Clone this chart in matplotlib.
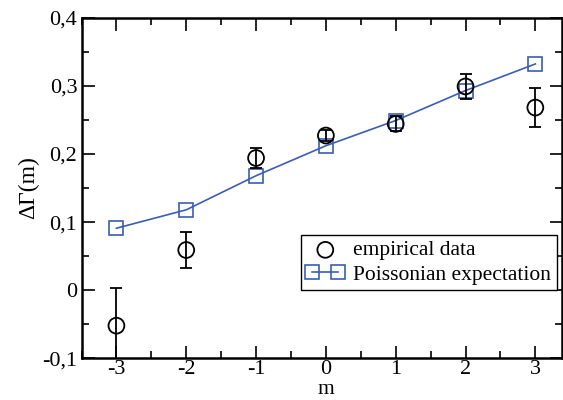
import matplotlib

matplotlib.use("Agg")
import matplotlib.pyplot as plt
from matplotlib.ticker import FuncFormatter, MultipleLocator

m_vals = [-3, -2, -1, 0, 1, 2, 3]
empirical = [-0.052, 0.059, 0.194, 0.227, 0.244, 0.299, 0.268]
empirical_err = [0.055, 0.027, 0.014, 0.008, 0.011, 0.018, 0.028]
poisson = [0.091, 0.118, 0.168, 0.212, 0.249, 0.293, 0.332]

BLUE = "#3a5db4"

plt.rcParams["font.family"] = ["Liberation Serif", "DejaVu Serif"]

fig = plt.figure(figsize=(5.63, 4.0), dpi=100)
ax = fig.add_axes([0.1448, 0.104, 0.8532, 0.852])

ax.plot(m_vals, poisson, "-", color=BLUE, lw=1.2, marker="s", ms=9.5,
        mfc="none", mec=BLUE, mew=1.2, label="Poissonian expectation", zorder=3)
ax.errorbar(m_vals, empirical, yerr=empirical_err, fmt="none", ecolor="black",
            elinewidth=1.3, capsize=4.5, capthick=1.3, zorder=4)
ax.scatter(m_vals, empirical, s=130, facecolors="none", edgecolors="black",
           linewidths=1.3, label="empirical data", zorder=5)

ax.set_xlim(-3.5, 3.38)
ax.set_ylim(-0.1, 0.4)
ax.xaxis.set_major_locator(MultipleLocator(1))
ax.xaxis.set_minor_locator(MultipleLocator(0.5))
ax.yaxis.set_major_locator(MultipleLocator(0.1))
ax.yaxis.set_minor_locator(MultipleLocator(0.05))

def comma(v, pos):
    if abs(v) < 1e-9:
        return "0"
    return f"{v:.1f}".replace(".", ",")

ax.yaxis.set_major_formatter(FuncFormatter(comma))
ax.xaxis.set_major_formatter(FuncFormatter(lambda v, p: f"{int(round(v))}"))

ax.tick_params(which="both", direction="in", top=True, right=True, labelsize=16, width=1.2)
ax.tick_params(which="major", length=9)
ax.tick_params(axis="x", which="major", pad=1)
ax.tick_params(axis="y", which="major", pad=3)
ax.tick_params(which="minor", length=5)
for s in ax.spines.values():
    s.set_linewidth(1.8)

# x label placed directly so it sits just under the tick labels
fig.text(0.1448 + 0.8532 * (3.5 / 6.88), 0.002, "m", fontsize=15.5,
         ha="center", va="bottom")
ax.set_ylabel("ΔΓ(m)", fontsize=17, labelpad=2)

handles, labels = ax.get_legend_handles_labels()
order = [1, 0]
leg = ax.legend([handles[i] for i in order], [labels[i] for i in order],
                loc="upper left", bbox_to_anchor=(0.456, 0.362), fontsize=15.5,
                numpoints=2, scatterpoints=1, handlelength=1.8, handletextpad=0.4,
                borderpad=0.25, labelspacing=0.2, fancybox=False, framealpha=1,
                edgecolor="black", borderaxespad=0)
leg.get_frame().set_linewidth(1.0)

fig.savefig("out.png", dpi=100)
